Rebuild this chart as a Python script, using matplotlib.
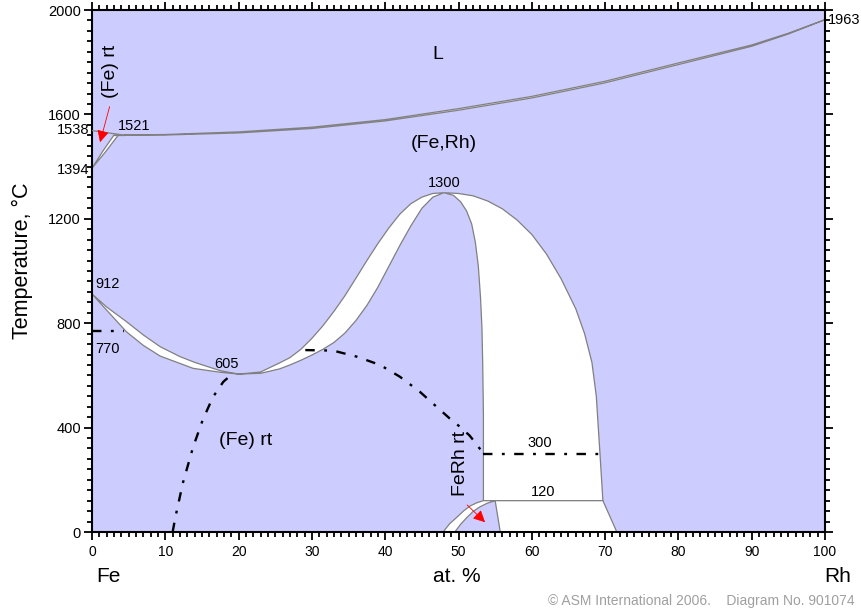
import matplotlib
matplotlib.use("Agg")
import matplotlib.pyplot as plt
from matplotlib.ticker import MultipleLocator

# ---- data (x in at.% Rh, T in deg C) ----
# liquidus / solidus lens (L / (Fe,Rh))
liq_x = [4.3, 10, 20, 30, 40, 50, 60, 70, 80, 90, 95, 100]
liq_t = [1521, 1523, 1533, 1551, 1580, 1622, 1669, 1727, 1797, 1866, 1911, 1963]
sol_x = [4.3, 10, 20, 30, 40, 50, 60, 70, 80, 90, 95, 100]
sol_t = [1521, 1521, 1529, 1546, 1575, 1616, 1663, 1721, 1791, 1861, 1908, 1963]

# delta-Fe corner
dliq_x = [0, 2, 4.3]
dliq_t = [1538, 1530, 1521]
dlens_left_x = [0, 1.5, 3.0]
dlens_left_t = [1394, 1460, 1521]
dlens_right_x = [0, 1.8, 3.6]
dlens_right_t = [1394, 1455, 1521]

# gamma / alpha band on the Fe side up to the 1300 maximum
band_up_x = [0, 2, 4.7, 7, 9.3, 12, 14, 17.5, 20, 23, 25.6, 27, 28.5, 30, 31.5, 33, 34.5, 36,
             37.5, 39, 40.5, 42, 43.5, 45, 46.5, 48]
band_up_t = [912, 862, 806, 755, 710, 672, 650, 618, 605, 613, 648, 668, 700, 742, 790, 845, 905, 972,
             1040, 1105, 1165, 1218, 1258, 1283, 1297, 1300]
band_lo_x = [0, 2, 4.7, 7, 9.3, 13.8, 17.5, 20, 23, 25.6, 27, 28.5, 30, 31.5, 33, 34.5, 36,
             37.5, 39, 40.5, 42, 43.5, 45, 46.5, 48]
band_lo_t = [912, 850, 767, 715, 674, 627, 612, 605, 608, 625, 640, 658, 678, 700, 726, 762, 810,
             868, 938, 1018, 1098, 1173, 1240, 1283, 1300]

# right lobe from the 1300 maximum down to 120
rin_x = [48, 49.3, 50.3, 51.1, 51.8, 52.3, 52.7, 53.0, 53.2, 53.3, 53.4, 53.4]
rin_t = [1300, 1290, 1265, 1230, 1180, 1110, 1020, 900, 780, 650, 450, 120]
rout_x = [48, 50, 52, 54, 56, 58, 60, 62, 64, 66, 67.2, 68.2, 68.8, 69.3, 69.7]
rout_t = [1300, 1297, 1288, 1268, 1238, 1195, 1140, 1065, 970, 855, 760, 650, 520, 300, 120]

# below 120
low_x = [55, 69.7, 71.6, 55.7]
low_t = [120, 120, 0, 0]
arc_out_x = [47.9, 48.8, 49.8, 50.7, 51.6, 52.5, 53.4]
arc_out_t = [0, 32, 57, 81, 100, 112, 120]
arc_in_x = [49.5, 50.3, 51.2, 52.0, 52.9, 53.9, 55]
arc_in_t = [0, 30, 57, 79, 96, 110, 120]

# dash-dot lines
curie_x = [0, 4.3]
curie_t = [770, 770]
dd1_x = [11, 11.4, 12.4, 13.8, 15.1, 16.5, 17.9, 19.1]
dd1_t = [0, 60, 188, 326, 429, 517, 575, 605]
dd2_x = [29.1, 32.9, 36.1, 39.3, 42, 44.7, 47, 48.8, 50.2, 51.5, 52.5, 53.4]
dd2_t = [697, 695, 672, 640, 595, 538, 480, 435, 403, 370, 335, 300]
dd3_x = [53.4, 69.3]
dd3_t = [300, 300]

lav = "#ccccff"
edge = "#808080"
dd = (0, (4, 4, 1.2, 4))

fig = plt.figure(figsize=(8.61, 6.12), dpi=100)
ax = fig.add_axes([92/861, 80/612, 733/861, 522/612])
ax.set_facecolor(lav)
ax.set_xlim(0, 100)
ax.set_ylim(0, 2000)

def region(xs, ts):
    ax.fill(xs, ts, facecolor="white", edgecolor=edge, lw=0.9, zorder=2)

region(liq_x + sol_x[::-1], liq_t + sol_t[::-1])
region(dlens_left_x + dlens_right_x[::-1], dlens_left_t + dlens_right_t[::-1])
ax.plot(dliq_x, dliq_t, color=edge, lw=0.9, zorder=3)
ax.plot([3.0, 4.3], [1521, 1521], color=edge, lw=0.9, zorder=3)
region(band_up_x + band_lo_x[::-1], band_up_t + band_lo_t[::-1])
region(rout_x + rin_x[::-1], rout_t + rin_t[::-1])
region(low_x, low_t)
region(arc_out_x + arc_in_x[::-1], arc_out_t + arc_in_t[::-1])

for xs, ts in [(curie_x, curie_t), (dd1_x, dd1_t), (dd2_x, dd2_t), (dd3_x, dd3_t)]:
    ax.plot(xs, ts, color="black", lw=1.7, linestyle=dd, zorder=4)

# ticks
ax.xaxis.set_major_locator(MultipleLocator(10))
ax.xaxis.set_minor_locator(MultipleLocator(1))
ax.yaxis.set_major_locator(MultipleLocator(400))
ax.yaxis.set_minor_locator(MultipleLocator(40))
ax.tick_params(which="both", direction="out", top=True, right=True, width=1.3, colors="black")
ax.tick_params(which="major", length=6)
ax.tick_params(which="minor", length=3.5)
ax.tick_params(axis="y", labelsize=10.5, pad=2)
ax.tick_params(axis="x", labelsize=10, pad=3)
for lab in ax.get_xticklabels() + ax.get_yticklabels():
    lab.set_family("Liberation Sans")
for s in ax.spines.values():
    s.set_linewidth(1.5)

# labels inside
font = "Liberation Sans"
ax.text(47.2, 1828, "L", fontsize=14, ha="center", va="center", family=font)
ax.text(48, 1490, "(Fe,Rh)", fontsize=14, ha="center", va="center", family=font)
ax.text(21, 352, "(Fe) rt", fontsize=14, ha="center", va="center", family=font)
ax.text(48, 1310, "1300", fontsize=10.5, ha="center", va="bottom", family=font)
ax.text(3.5, 1528, "1521", fontsize=10.5, ha="left", va="bottom", family=font)
ax.text(0.4, 925, "912", fontsize=10.5, ha="left", va="bottom", family=font)
ax.text(0.4, 700, "770", fontsize=10.5, ha="left", va="center", family=font)
ax.text(18.4, 615, "605", fontsize=10.5, ha="center", va="bottom", family=font)
ax.text(61.1, 341, "300", fontsize=10.5, ha="center", va="center", family=font)
ax.text(61.5, 153, "120", fontsize=10.5, ha="center", va="center", family=font)
ax.text(-0.3, 1540, "1538", fontsize=10.5, ha="right", va="center", family=font, clip_on=False)
ax.text(-0.3, 1387, "1394", fontsize=10.5, ha="right", va="center", family=font, clip_on=False)
ax.text(100.4, 1963, "1963", fontsize=10.5, ha="left", va="center", family=font, clip_on=False)

ax.text(2.5, 1765, "(Fe) rt", fontsize=14, rotation=90, ha="center", va="center", family=font)
ax.annotate("", xy=(1.0, 1483), xytext=(2.5, 1640),
            arrowprops=dict(arrowstyle="-|>", color="red", lw=0.6, mutation_scale=18), zorder=5)
ax.text(50.3, 262, "FeRh rt", fontsize=14, rotation=90, ha="center", va="center", family=font)
ax.annotate("", xy=(53.9, 30), xytext=(50.9, 111),
            arrowprops=dict(arrowstyle="-|>", color="red", lw=0.6, mutation_scale=18), zorder=5)

# axis titles
ax.set_ylabel("Temperature, \u00b0C", fontsize=15.5, family=font)
ax.yaxis.set_label_coords(-0.08, 0.52)
fig.text(108/861, 1 - 577/612, "Fe", fontsize=15, ha="center", va="center", family=font)
fig.text(457/861, 1 - 577/612, "at. %", fontsize=15, ha="center", va="center", family=font)
fig.text(838/861, 1 - 577/612, "Rh", fontsize=15, ha="center", va="center", family=font)
fig.text(855/861, 1 - 601/612, "\u00a9 ASM International 2006.    Diagram No. 901074",
         fontsize=10, ha="right", va="center", color="#a0a0a0", family=font)

fig.savefig("out.png", dpi=100)
